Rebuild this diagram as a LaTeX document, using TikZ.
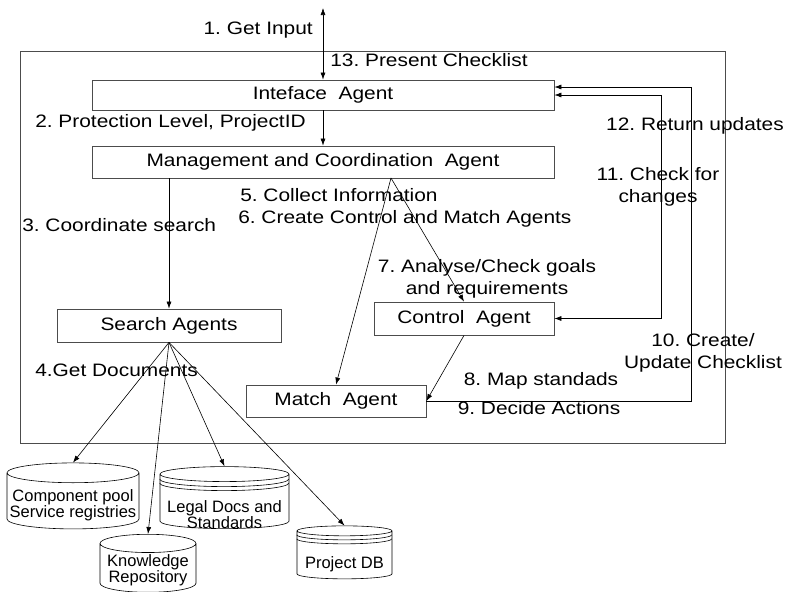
\documentclass[tikz,border=0pt]{standalone}
\usepackage{fontspec}
\setmainfont{Liberation Sans}[FakeStretch=1.16]
\newfontfamily\dbfont{Liberation Sans}
\usetikzlibrary{shapes,arrows.meta,positioning,calc}
\frenchspacing

\tikzset{
	agent/.style={draw=black!70, line width=0.8pt, inner sep=0pt},
	store/.style={draw, cylinder, shape border rotate=90, inner sep=0pt},
	dblbl/.style={inner sep=0pt, align=center, font=\dbfont\fontsize{16.5}{15.5}\selectfont},
	lbl/.style={inner sep=0pt, align=center}
}

\begin{document}
\begin{tikzpicture}[x=1pt, y=-1pt, line width=0.6pt,
	font=\fontsize{18}{22}\selectfont, >={Latex[length=7pt,width=5pt]}]
	\useasboundingbox (0,0) rectangle (788,592);
	\draw[draw=black!70, line width=0.8pt] (20,51) rectangle (725,443);

	\node[agent, minimum width=462pt, minimum height=30pt]	(iface)	at (323,95)		{Inteface\ \ Agent};
	\node[agent, minimum width=462pt, minimum height=32pt]	(mgmt)	at (323,162)	{Management and Coordination\ \ Agent};
	\node[agent, minimum width=224pt, minimum height=33pt]	(search)	at (169,325.5)	{Search Agents};
	\node[agent, minimum width=180pt, minimum height=33pt]	(control)	at (464,318.5)	{Control\ \ Agent};
	\node[agent, minimum width=180pt, minimum height=32pt]	(match)	at (336,401)	{Match\ \ Agent};

	\node[store, minimum height=66pt, aspect=0.15,
		label={[dblbl, name=comp-txt, yshift=-4pt]center:{Component pool\\Service registries}}]	(comp)	at (73,501)	{\hspace*{132pt}};
	\node[store, minimum height=58pt, aspect=0.19,
		label={[dblbl, name=know-txt, yshift=-2pt]center:{Knowledge\\Repository}}]	(know)	at (148,568)	{\hspace*{96pt}};
	\node[store, minimum height=62pt, aspect=0.116,
		label={[dblbl, name=legal-txt, yshift=-13pt]center:{Legal Docs and\\Standards}}]	(legal)	at (224.5,501.5)	{\hspace*{129pt}};
	\node[store, minimum height=53pt, aspect=0.105,
		label={[dblbl, name=proj-txt, yshift=-9pt]center:{Project DB}}]	(proj)	at (344.5,555)	{\hspace*{95pt}};

	\draw ([yshift=-5pt]legal.before top) arc[start angle=180, end angle=360, x radius=64.5pt, y radius=7.5pt];
	\draw ([yshift=-9pt]legal.before top) arc[start angle=180, end angle=360, x radius=64.5pt, y radius=7.5pt];
	\draw ([yshift=-4pt]proj.before top) arc[start angle=180, end angle=360, x radius=47.5pt, y radius=5pt];
	\draw ([yshift=-8pt]proj.before top) arc[start angle=180, end angle=360, x radius=47.5pt, y radius=5pt];

	\coordinate (user)	at (323,8);
	\coordinate (split)	at (391,178);

	\draw[<->] (user) -- (iface);
	\draw[->] (iface) -- (mgmt);
	\draw[->] (search.north |- mgmt.south) -- (search.north);
	\draw[->] (split) -- (control.north);
	\draw[->] (split) -- (match.north);
	\draw[->] (control.south) -- (match.east);
	\draw[->] (match.east) -| ($(iface.east)+(137,-8)$) -- ($(iface.east)+(0,-8)$);
	\draw[<->] (iface.east) -| ($(control.east)+(107,0)$) -- (control.east);
	\foreach \db in {comp,know,legal,proj}
		\draw[->] (search.south) -- (\db.north);

	\node[lbl, anchor=east]	at (313,30)		{1. Get Input};
	\node[lbl, anchor=west]	at (330,60)		{13. Present Checklist};
	\node[lbl, anchor=west]	at (35,123)		{2. Protection Level, ProjectID};
	\node[lbl, anchor=west]	at (22,225)		{3. Coordinate search};
	\node[lbl, anchor=west]	at (240,195)	{5. Collect Information};
	\node[lbl, anchor=west]	at (238,219)	{6. Create Control and Match Agents};
	\node[lbl]				at (487,279)	{7. Analyse/Check goals\\and requirements};
	\node[lbl, anchor=west]	at (35,370)		{4.Get Documents};
	\node[lbl]				at (541,381)	{8. Map standads};
	\node[lbl]				at (539,408)	{9. Decide Actions};
	\node[lbl]				at (703,353)	{10. Create/\\Update Checklist};
	\node[lbl]				at (658,187)	{11. Check for\\changes};
	\node[lbl]				at (695,126)	{12. Return updates};
\end{tikzpicture}
\end{document}
